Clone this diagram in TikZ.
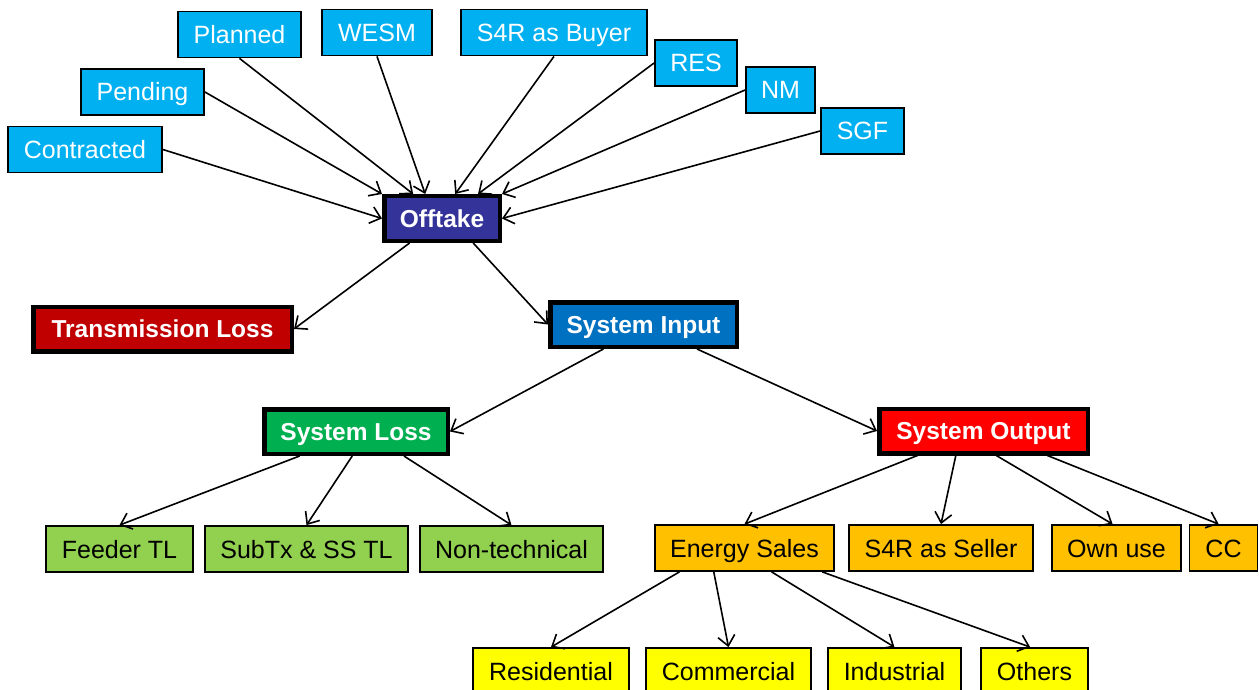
\documentclass[tikz,border=0pt]{standalone}
\usepackage{fontspec}
\setmainfont{Liberation Sans}
\usetikzlibrary{arrows.meta,calc}
\definecolor{cyanbox}{HTML}{00B0F0}
\definecolor{offtakec}{HTML}{333399}
\definecolor{tlossc}{HTML}{C00000}
\definecolor{sinputc}{HTML}{0070C0}
\definecolor{slossc}{HTML}{00B050}
\definecolor{soutc}{HTML}{FF0000}
\definecolor{greenbox}{HTML}{92D050}
\definecolor{orangebox}{HTML}{FFC000}
\definecolor{yellowbox}{HTML}{FFFF00}
\begin{document}
\begin{tikzpicture}[x=1pt,y=-1pt,
  box/.style={draw=black,line width=1.8pt,inner sep=0pt,text height=18pt,text depth=0pt,
    font=\fontsize{25}{30}\selectfont},
  src/.style={box,fill=cyanbox,text=white,minimum height=46pt},
  lvl/.style={box,minimum height=46pt},
  head/.style={draw=black,line width=4.5pt,inner sep=0pt,text=white,text height=17pt,text depth=0pt,
    minimum height=44.5pt,font=\fontsize{24.5}{29}\selectfont\bfseries},
  arr/.style={-{Straight Barb[length=10pt,width=17pt]},line width=1.6pt}]
\useasboundingbox (0,0) rectangle (1259,690);
\clip (0,0) rectangle (1259,690);
% sources
\node[src,minimum width=123pt] (planned) at (239.5,34.5) {Planned};
\node[src,minimum width=110pt] (wesm) at (377,32.5) {WESM};
\node[src,minimum width=186pt] (buyer) at (554,32.5) {S4R as Buyer};
\node[src,minimum width=82pt] (res) at (696,63) {RES};
\node[src,minimum width=69pt] (nm) at (780.5,90) {NM};
\node[src,minimum width=83pt] (sgf) at (862.5,131) {SGF};
\node[src,minimum width=123pt] (pending) at (142.5,92) {Pending};
\node[src,minimum width=154pt] (contracted) at (85,149.5) {Contracted};
% headings
\node[head,fill=offtakec,minimum width=115.5pt] (offtake) at (442,218.5) {Offtake};
\node[head,fill=tlossc,minimum width=258.5pt] (tloss) at (162.5,329) {Transmission Loss};
\node[head,fill=sinputc,minimum width=186.5pt] (sinput) at (643.5,324.5) {System Input};
\node[head,fill=slossc,minimum width=183.5pt] (sloss) at (356,431.5) {System Loss};
\node[head,fill=soutc,minimum width=208.5pt] (soutput) at (983.5,431) {System Output};
% losses
\node[lvl,fill=greenbox,minimum width=147pt] (feeder) at (119.5,549) {Feeder TL};
\node[lvl,fill=greenbox,minimum width=203pt] (subtx) at (306.5,549) {SubTx \& SS TL};
\node[lvl,fill=greenbox,minimum width=183pt] (nontech) at (511.5,549) {Non-technical};
% outputs
\node[lvl,fill=orangebox,minimum width=179pt] (esales) at (744.5,548) {Energy Sales};
\node[lvl,fill=orangebox,minimum width=184pt] (seller) at (941,548) {S4R as Seller};
\node[lvl,fill=orangebox,minimum width=129pt] (ownuse) at (1116.5,548) {Own use};
\node[lvl,fill=orangebox,minimum width=68pt] (cc) at (1223.5,548) {CC};
% sales
\node[lvl,fill=yellowbox,minimum width=156pt] (resid) at (551,671) {Residential};
\node[lvl,fill=yellowbox,minimum width=165pt] (comm) at (728.5,671) {Commercial};
\node[lvl,fill=yellowbox,minimum width=133pt] (indus) at (894.5,671) {Industrial};
\node[lvl,fill=yellowbox,minimum width=107pt] (others) at (1034.5,671) {Others};
% edges into offtake
\draw[arr] (contracted.east) -- (offtake.west);
\draw[arr] (pending.east) -- (offtake.north west);
\draw[arr] (planned.south) -- ($(offtake.north west)!0.26!(offtake.north east)$);
\draw[arr] (wesm.south) -- ($(offtake.north west)!0.36!(offtake.north east)$);
\draw[arr] (buyer.south) -- ($(offtake.north west)!0.61!(offtake.north east)$);
\draw[arr] (res.west) -- ($(offtake.north west)!0.80!(offtake.north east)$);
\draw[arr] (nm.west) -- (offtake.north east);
\draw[arr] (sgf.west) -- (offtake.east);
% offtake out
\draw[arr] ($(offtake.south west)!0.23!(offtake.south east)$) -- (tloss.east);
\draw[arr] ($(offtake.south west)!0.76!(offtake.south east)$) -- (sinput.west);
% system input out
\draw[arr] ($(sinput.south west)!0.29!(sinput.south east)$) -- (sloss.east);
\draw[arr] ($(sinput.south west)!0.78!(sinput.south east)$) -- (soutput.west);
% system loss out
\draw[arr] ($(sloss.south west)!0.20!(sloss.south east)$) -- (feeder.north);
\draw[arr] ($(sloss.south west)!0.48!(sloss.south east)$) -- (subtx.north);
\draw[arr] ($(sloss.south west)!0.755!(sloss.south east)$) -- (nontech.north);
% system output out
\draw[arr] ($(soutput.south west)!0.19!(soutput.south east)$) -- (esales.north);
\draw[arr] ($(soutput.south west)!0.37!(soutput.south east)$) -- (seller.north);
\draw[arr] ($(soutput.south west)!0.56!(soutput.south east)$) -- ($(ownuse.north west)!0.47!(ownuse.north east)$);
\draw[arr] ($(soutput.south west)!0.80!(soutput.south east)$) -- ($(cc.north west)!0.43!(cc.north east)$);
% energy sales out
\draw[arr] ($(esales.south west)!0.14!(esales.south east)$) -- (resid.north);
\draw[arr] ($(esales.south west)!0.33!(esales.south east)$) -- (comm.north);
\draw[arr] ($(esales.south west)!0.65!(esales.south east)$) -- (indus.north);
\draw[arr] ($(esales.south west)!0.93!(esales.south east)$) -- ($(others.north west)!0.46!(others.north east)$);
\end{tikzpicture}
\end{document}
